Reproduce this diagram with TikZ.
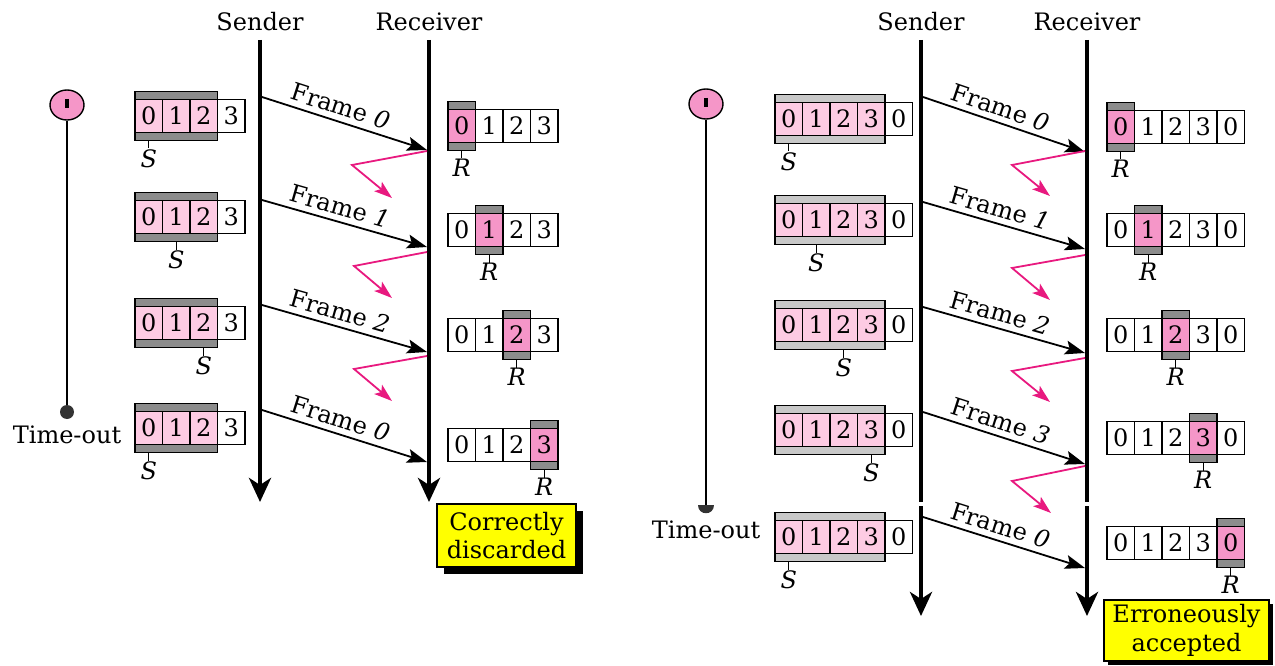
\documentclass[tikz,border=0pt]{standalone}
\usepackage{fontspec}
\setmainfont{DejaVu Serif}
\usetikzlibrary{arrows.meta,shapes.geometric,shadows,calc}

\definecolor{winpink}{HTML}{FDCBE3}
\definecolor{recpink}{HTML}{F596C8}
\definecolor{darkbar}{HTML}{8C8C8C}
\definecolor{lightbar}{HTML}{C8C8C8}
\definecolor{ackpink}{HTML}{E8197F}
\definecolor{notey}{HTML}{FFFF00}

\newcommand\txt{\fontsize{24}{28.5}\selectfont}

\tikzset{
  cell/.style={draw=black, line width=1.4pt, minimum width=27.5pt, minimum height=33pt,
    inner sep=0pt, outer sep=0pt, anchor=west, font=\txt},
  bar/.style={draw=black, line width=1.4pt},
  tick/.style={line width=1.4pt},
  ptr/.style={font=\txt\itshape, inner sep=0pt, anchor=north},
  timeline/.style={line width=4.5pt, -{Stealth[length=24pt,width=22pt,inset=7pt]}},
  framearrow/.style={line width=1.8pt, -{Stealth[length=20pt,width=14pt,inset=4pt]}},
  ack/.style={ackpink, line width=1.8pt, -{Stealth[length=18pt,width=12pt,inset=4pt]}},
  lbl/.style={font=\txt, sloped, above=2pt, pos=0.45},
  head/.style={font=\txt},
  timer/.style={ellipse, draw=black, line width=1.4pt, fill=recpink,
    minimum width=34pt, minimum height=30pt, inner sep=0pt},
  note/.style={draw=black, fill=notey, line width=1.4pt, font=\txt, align=center,
    inner sep=2pt},
}

% sender window: name, left x, centre y, digits, cells in window, S index, bar colour
\newcommand\sendwin[7]{%
  \filldraw[bar, fill=#7] (#2,#3-24.5) rectangle (#2+27.5*#5,#3+24.5);
  \foreach \d [count=\k from 0] in {#4}{%
    \ifnum\k<#5\relax\def\cf{winpink}\else\def\cf{white}\fi
    \node[cell, fill=\cf] (#1-\k) at (#2+27.5*\k,#3) {\d};
  }
  \draw[tick] ($(#1-#6.south)+(0,8)$) -- ++(0,8) node[ptr] {S};
}

% receiver window: name, left x, centre y, digits, R index
\newcommand\recvwin[5]{%
  \filldraw[bar, fill=darkbar] (#2+27.5*#5,#3-24.5) rectangle ++(27.5,49);
  \foreach \d [count=\k from 0] in {#4}{%
    \ifnum\k=#5\relax\def\cf{recpink}\else\def\cf{white}\fi
    \node[cell, fill=\cf] (#1-\k) at (#2+27.5*\k,#3) {\d};
  }
  \draw[tick] ($(#1-#5.south)+(0,8)$) -- ++(0,8) node[ptr] {R};
}

\begin{document}
\begin{tikzpicture}[x=1pt,y=-1pt]
\useasboundingbox (0,0) rectangle (1275,666);

% ---------------- left: lost acknowledgments, frame 0 resent ----------------
\node[head] (sndL) at (260,22) {Sender};
\node[head] (rcvL) at (429,22) {Receiver};
\coordinate (sLt) at (260,40);  \coordinate (sLb) at (260,502);
\coordinate (rLt) at (429,40);  \coordinate (rLb) at (429,502);
\draw[timeline] (sLt) -- (sLb);
\draw[timeline] (rLt) -- (rLb);

\node[timer] (tmL) at (67,105) {};
\draw[line width=3.5pt] ($(tmL.center)+(0,-6)$) -- ($(tmL.center)+(0,3)$);
\node[circle, fill=black!80, minimum size=14pt, inner sep=0pt] (dotL) at (67,412) {};
\draw[line width=1.4pt] (tmL.south) -- (dotL.north);
\node[head] (toL) at (67,435) {Time-out};

\sendwin{sa}{135}{116}{0,1,2,3}{3}{0}{darkbar}
\sendwin{sb}{135}{217}{0,1,2,3}{3}{1}{darkbar}
\sendwin{sc}{135}{323}{0,1,2,3}{3}{2}{darkbar}
\sendwin{sd}{135}{428}{0,1,2,3}{3}{0}{darkbar}

\recvwin{ra}{448}{126}{0,1,2,3}{0}
\recvwin{rb}{448}{230}{0,1,2,3}{1}
\recvwin{rc}{448}{335}{0,1,2,3}{2}
\recvwin{rd}{448}{445}{0,1,2,3}{3}

\coordinate (fa1) at (262,97);  \coordinate (fa2) at (427,150);
\coordinate (fb1) at (262,200); \coordinate (fb2) at (427,247);
\coordinate (fc1) at (262,305); \coordinate (fc2) at (427,352);
\coordinate (fd1) at (262,410); \coordinate (fd2) at (427,462);
\draw[framearrow] (fa1) -- node[lbl] {Frame \textit{0}} (fa2);
\draw[framearrow] (fb1) -- node[lbl] {Frame \textit{1}} (fb2);
\draw[framearrow] (fc1) -- node[lbl] {Frame \textit{2}} (fc2);
\draw[framearrow] (fd1) -- node[lbl] {Frame \textit{0}} (fd2);

\coordinate (aa1) at (427,151); \coordinate (aa2) at (352,165); \coordinate (aa3) at (392,198);
\coordinate (ab1) at (427,252); \coordinate (ab2) at (354,266); \coordinate (ab3) at (392,298);
\coordinate (ac1) at (427,356); \coordinate (ac2) at (354,369); \coordinate (ac3) at (392,401);
\draw[ack] (aa1) -- (aa2) -- (aa3);
\draw[ack] (ab1) -- (ab2) -- (ab3);
\draw[ack] (ac1) -- (ac2) -- (ac3);

\node[note, minimum width=139pt, minimum height=63pt,
  drop shadow={shadow xshift=7pt, shadow yshift=-7pt, fill=black, opacity=1}]
  (okL) at (506.5,535.5) {Correctly\\discarded};

% ---------------- right: window of size 4, frame 0 wrongly accepted ----------------
\node[head] (sndR) at (921,22) {Sender};
\node[head] (rcvR) at (1087,22) {Receiver};
\coordinate (sRt) at (921,40);  \coordinate (sRb) at (921,616);
\coordinate (rRt) at (1087,40); \coordinate (rRb) at (1087,616);
\draw[timeline] (sRt) -- (sRb);
\draw[timeline] (rRt) -- (rRb);
\fill[white] (915,502) rectangle (927,505.5);
\fill[white] (1081,502) rectangle (1093,505.5);

\node[timer] (tmR) at (706,104) {};
\draw[line width=3.5pt] ($(tmR.center)+(0,-6)$) -- ($(tmR.center)+(0,3)$);
\coordinate (dotR) at (706,505);
\draw[line width=1.4pt] (tmR.south) -- (dotR);
\fill[black!80] ($(dotR)+(-8,0)$) -- ($(dotR)+(8,0)$)
  .. controls ($(dotR)+(8,10.7)$) and ($(dotR)+(-8,10.7)$) .. cycle;
\node[head] (toR) at (706,530) {Time-out};

\sendwin{ta}{775}{119}{0,1,2,3,0}{4}{0}{lightbar}
\sendwin{tb}{775}{220}{0,1,2,3,0}{4}{1}{lightbar}
\sendwin{tc}{775}{325}{0,1,2,3,0}{4}{2}{lightbar}
\sendwin{td}{775}{430}{0,1,2,3,0}{4}{3}{lightbar}
\sendwin{te}{775}{537}{0,1,2,3,0}{4}{0}{lightbar}

\recvwin{qa}{1107}{127}{0,1,2,3,0}{0}
\recvwin{qb}{1107}{230}{0,1,2,3,0}{1}
\recvwin{qc}{1107}{335}{0,1,2,3,0}{2}
\recvwin{qd}{1107}{438}{0,1,2,3,0}{3}
\recvwin{qe}{1107}{543}{0,1,2,3,0}{4}

\coordinate (ga1) at (923,97);  \coordinate (ga2) at (1085,152);
\coordinate (gb1) at (923,202); \coordinate (gb2) at (1085,249);
\coordinate (gc1) at (923,307); \coordinate (gc2) at (1085,353);
\coordinate (gd1) at (923,412); \coordinate (gd2) at (1085,464);
\coordinate (ge1) at (923,517); \coordinate (ge2) at (1085,568);
\draw[framearrow] (ga1) -- node[lbl] {Frame \textit{0}} (ga2);
\draw[framearrow] (gb1) -- node[lbl] {Frame \textit{1}} (gb2);
\draw[framearrow] (gc1) -- node[lbl] {Frame \textit{2}} (gc2);
\draw[framearrow] (gd1) -- node[lbl] {Frame \textit{3}} (gd2);
\draw[framearrow] (ge1) -- node[lbl] {Frame \textit{0}} (ge2);

\coordinate (ba1) at (1085,151); \coordinate (ba2) at (1012,165); \coordinate (ba3) at (1050,196);
\coordinate (bb1) at (1085,255); \coordinate (bb2) at (1012,268); \coordinate (bb3) at (1050,300);
\coordinate (bc1) at (1085,358); \coordinate (bc2) at (1012,371); \coordinate (bc3) at (1050,402);
\coordinate (bd1) at (1085,466); \coordinate (bd2) at (1012,481); \coordinate (bd3) at (1051,513);
\draw[ack] (ba1) -- (ba2) -- (ba3);
\draw[ack] (bb1) -- (bb2) -- (bb3);
\draw[ack] (bc1) -- (bc2) -- (bc3);
\draw[ack] (bd1) -- (bd2) -- (bd3);

\node[note, minimum width=165pt, minimum height=61pt,
  drop shadow={shadow xshift=4pt, shadow yshift=-4pt, fill=black, opacity=1}]
  (errR) at (1186.5,630.5) {Erroneously\\accepted};
\end{tikzpicture}
\end{document}
